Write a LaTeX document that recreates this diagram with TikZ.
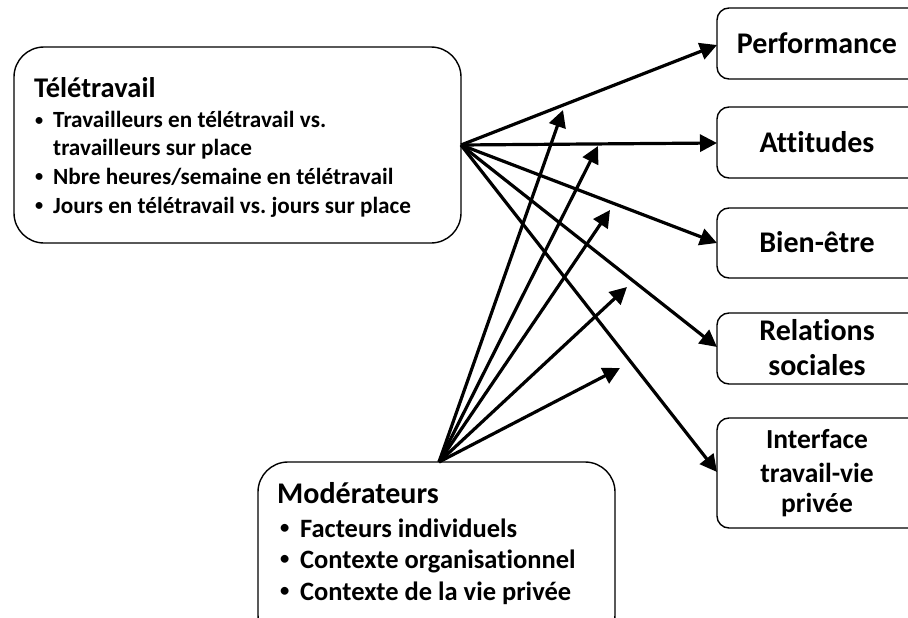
\documentclass[tikz,border=0pt]{standalone}
\usepackage{fontspec}
\setmainfont[Ligatures=NoCommon]{Carlito}
\usetikzlibrary{arrows.meta}
\frenchspacing
\newcommand{\bul}{\raisebox{0.12em}{\scalebox{0.7}{•}}}
\begin{document}
\begin{tikzpicture}[x=1pt,y=-1pt,
  box/.style={draw=black,line width=1.4pt,fill=white},
  conn/.style={line width=3.2pt,-{Triangle[length=17pt,width=17pt]}},
  ttl/.style={font=\bfseries\fontsize{28.5}{32}\selectfont,anchor=base west,inner sep=0pt},
  mttl/.style={font=\bfseries\fontsize{30}{34}\selectfont,anchor=base west,inner sep=0pt},
  itm/.style={font=\bfseries\fontsize{23.2}{29}\selectfont,anchor=base west,inner sep=0pt},
  mitm/.style={font=\bfseries\fontsize{26.5}{32}\selectfont,anchor=base west,inner sep=0pt},
  lbl/.style={font=\bfseries\fontsize{30}{34}\selectfont,anchor=base,inner sep=0pt},
  lbli/.style={font=\bfseries\fontsize{27.5}{32}\selectfont,anchor=base,inner sep=0pt}]
\useasboundingbox (0,0) rectangle (908,618);
\clip (0,0) rectangle (908,618);
% boxes
\draw[box,rounded corners=30pt] (14,47) rectangle (461,243);
\draw[box,rounded corners=30pt] (258,462) rectangle (615,645);
\draw[box,rounded corners=12pt] (717,8) rectangle (930,79);
\draw[box,rounded corners=12pt] (717,107) rectangle (930,178);
\draw[box,rounded corners=12pt] (717,208) rectangle (930,278);
\draw[box,rounded corners=12pt] (717,313) rectangle (930,384);
\draw[box,rounded corners=12pt] (717,418) rectangle (930,528);
% anchor coordinates
\coordinate (tsrc) at (461,145);
\coordinate (msrc) at (439,462);
\coordinate (perf) at (717,45);
\coordinate (att) at (717,143);
\coordinate (bien) at (717,243);
\coordinate (rel) at (717,347);
\coordinate (inter) at (717,472);
\coordinate (m1) at (563,110);
\coordinate (m2) at (598,146);
\coordinate (m3) at (610,210);
\coordinate (m4) at (627,287);
\coordinate (m5) at (620,368);
% texts
\node[ttl] (tt) at (34,97) {Télétravail};
\node[itm] (tb1) at (35,128) {\bul};
\node[itm] (ti1) at (53,128) {Travailleurs en télétravail vs.};
\node[itm] (ti1b) at (53,155) {travailleurs sur place};
\node[itm] (tb2) at (35,184) {\bul};
\node[itm] (ti2) at (53,184) {Nbre heures/semaine en télétravail};
\node[itm] (tb3) at (35,213) {\bul};
\node[itm] (ti3) at (53,213) {Jours en télétravail vs. jours sur place};
\node[mttl] (mt) at (277,503) {Modérateurs};
\node[mitm] (mb1) at (280,537) {\bul};
\node[mitm] (mi1) at (300,537) {Facteurs individuels};
\node[mitm] (mb2) at (280,568) {\bul};
\node[mitm] (mi2) at (300,568) {Contexte organisationnel};
\node[mitm] (mb3) at (280,600) {\bul};
\node[mitm] (mi3) at (300,600) {Contexte de la vie privée};
\node[lbl] (lp) at (817,54) {Performance};
\node[lbl] (la) at (817,152) {Attitudes};
\node[lbl] (lb) at (817,252) {Bien-être};
\node[lbl] (lr1) at (817,340) {Relations};
\node[lbl] (lr2) at (817,375) {sociales};
\node[lbli] (li1) at (817,448) {Interface};
\node[lbli] (li2) at (817,482) {travail-vie};
\node[lbli] (li3) at (817,512) {privée};
% connectors
\draw[conn] (tsrc) -- (perf);
\draw[conn] (tsrc) -- (att);
\draw[conn] (tsrc) -- (bien);
\draw[conn] (tsrc) -- (rel);
\draw[conn] (tsrc) -- (inter);
\draw[conn] (msrc) -- (m1);
\draw[conn] (msrc) -- (m2);
\draw[conn] (msrc) -- (m3);
\draw[conn] (msrc) -- (m4);
\draw[conn] (msrc) -- (m5);
\end{tikzpicture}
\end{document}
